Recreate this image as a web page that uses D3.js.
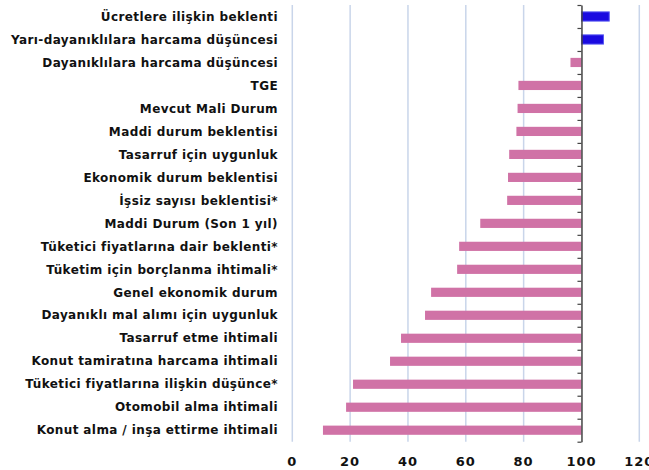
<!DOCTYPE html>
<html>
<head>
<meta charset="utf-8">
<script src="https://cdn.jsdelivr.net/npm/d3@7"></script>
<style>
  body { margin: 0; background: #fff; }
  svg { display: block; font-family: "DejaVu Sans", Lato, sans-serif; font-weight: bold; }
</style>
</head>
<body>
<svg id="chart" width="649" height="470"></svg>
<script>
const categories = [
  "Ücretlere ilişkin beklenti",
  "Yarı-dayanıklılara harcama düşüncesi",
  "Dayanıklılara harcama düşüncesi",
  "TGE",
  "Mevcut Mali Durum",
  "Maddi durum beklentisi",
  "Tasarruf için uygunluk",
  "Ekonomik durum beklentisi",
  "İşsiz sayısı beklentisi*",
  "Maddi Durum (Son 1 yıl)",
  "Tüketici fiyatlarına dair beklenti*",
  "Tüketim için borçlanma ihtimali*",
  "Genel ekonomik durum",
  "Dayanıklı mal alımı için uygunluk",
  "Tasarruf etme ihtimali",
  "Konut tamiratına harcama ihtimali ",
  "Tüketici fiyatlarına ilişkin düşünce*",
  "Otomobil alma ihtimali",
  "Konut alma / inşa ettirme ihtimali"
];
const values = [109.6, 107.6, 96.2, 78.2, 77.9, 77.5, 75.0, 74.6, 74.3, 65.0,
  57.7, 57.0, 48.0, 45.9, 37.6, 33.8, 21.0, 18.6, 10.6];
const xTicks = [0, 20, 40, 60, 80, 100, 120];
const baseline = 100;

const data = categories.map((c, i) => ({ name: c, value: values[i] }));

const svg = d3.select("#chart");
const plotTop = 5, plotBottom = 441.7;

const x = d3.scaleLinear().domain([0, 120]).range([292.3, 639.3]);

const y = d3.scaleBand()
  .domain(categories)
  .range([plotTop, plotBottom])
  .paddingInner(0.6)
  .paddingOuter(0.3);

// gridlines
svg.append("g")
  .selectAll("line")
  .data(xTicks.filter(t => t !== baseline))
  .join("line")
  .attr("x1", d => x(d)).attr("x2", d => x(d))
  .attr("y1", plotTop).attr("y2", plotBottom)
  .attr("stroke", "#c9d5ea")
  .attr("stroke-width", 1.5);

// bars
svg.append("g")
  .selectAll("rect")
  .data(data)
  .join("rect")
  .attr("x", d => x(Math.min(d.value, baseline)))
  .attr("width", d => Math.abs(x(d.value) - x(baseline)))
  .attr("y", d => y(d.name))
  .attr("height", y.bandwidth())
  .attr("fill", d => d.value > baseline ? "#1a0ae0" : "#d072a6")
  .attr("stroke", d => d.value > baseline ? "#5656f2" : "none")
  .attr("stroke-width", 1);

// category axis at 100 with boundary ticks
const yTickScale = d3.scaleLinear().domain([0, categories.length]).range([plotTop, plotBottom]);
svg.append("g")
  .attr("transform", `translate(${x(baseline)},0)`)
  .call(d3.axisLeft(yTickScale)
    .tickValues(d3.range(categories.length + 1))
    .tickFormat("")
    .tickSize(4)
    .tickSizeOuter(0))
  .call(g => g.select(".domain").attr("stroke", "#444").attr("stroke-width", 1.5))
  .call(g => g.selectAll(".tick line").attr("stroke", "#444").attr("stroke-width", 1.2));

// category labels
svg.append("g")
  .selectAll("text")
  .data(data)
  .join("text")
  .attr("x", 278)
  .attr("y", d => y(d.name) + y.bandwidth() / 2)
  .attr("dy", "0.35em")
  .attr("text-anchor", "end")
  .attr("font-size", 12)
  .attr("letter-spacing", 0.4)
  .attr("fill", "#111")
  .text(d => d.name);

// x tick labels
svg.append("g")
  .selectAll("text")
  .data(xTicks)
  .join("text")
  .attr("x", d => x(d))
  .attr("y", 461)
  .attr("dy", "0.35em")
  .attr("text-anchor", "middle")
  .attr("font-size", 13)
  .attr("letter-spacing", 1)
  .attr("fill", "#111")
  .text(d => d);
</script>
</body>
</html>
